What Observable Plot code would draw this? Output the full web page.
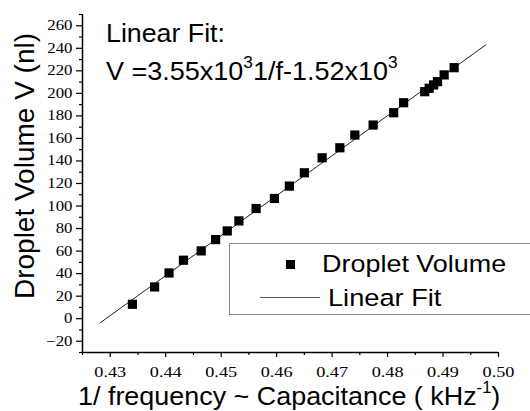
<!DOCTYPE html>
<html><head><meta charset="utf-8">
<script src="https://cdn.jsdelivr.net/npm/d3@7"></script>
<script src="https://cdn.jsdelivr.net/npm/@observablehq/plot@0.6"></script>
<style>
html,body{margin:0;padding:0;background:#fff;overflow:hidden;width:530px;height:411px}
#wrap{position:relative;width:530px;height:411px;overflow:hidden;font-family:"Liberation Sans",Arial,sans-serif;color:#000}
#wrap svg{position:absolute;left:0;top:0}
#wrap svg g[aria-label$="tick label"] text{font-family:"Liberation Serif","Times New Roman",serif;font-size:14px}
.ov{position:absolute;white-space:nowrap;line-height:1;transform-origin:0 0}
.sup{font-size:16px;position:relative;top:-12px}
.hl{position:absolute;height:0;border-top:1px solid #8a8a8a}
</style></head><body><div id="wrap"></div>
<script>
// Measured data (1/frequency in kHz^-1, droplet volume in nl)
const freqInv = [0.4340,0.4380,0.4406,0.4432,0.4464,0.4490,0.4511,0.4532,0.4563,0.4596,0.4623,0.4650,0.4682,0.4714,0.4741,0.4774,0.4811,0.4829,0.4867,0.4875,0.4883,0.4890,0.4902,0.4920];
const volume  = [12.8,28.2,40.6,51.9,60.2,70.2,77.9,86.8,97.8,106.7,117.7,129.5,142.8,151.7,163.0,171.9,182.8,191.7,201.5,204.5,207.5,210.4,216.4,222.8];
// Linear fit line end points
const fitX = [0.4282, 0.4977];
const fitV = [-3.6, 243.0];
// Axes
const xDomain = [0.425, 0.50];
const yDomain = [-30, 270];
const xMajorTicks = [0.43,0.44,0.45,0.46,0.47,0.48,0.49,0.50];
const xMinorTicks = [0.425,0.435,0.445,0.455,0.465,0.475,0.485,0.495];
const yMajorTicks = [-20,0,20,40,60,80,100,120,140,160,180,200,220,240,260];
const yMinorTicks = [-30,-10,10,30,50,70,90,110,130,150,170,190,210,230,250,270];

const points = freqInv.map((x,i)=>({x, v: volume[i]}));
const fit = fitX.map((x,i)=>({x, v: fitV[i]}));

const chart = Plot.plot({
  width:530, height:411,
  marginLeft:82, marginRight:32, marginTop:14, marginBottom:59,
  style:{fontFamily:"Liberation Serif, serif", fontSize:"14px", color:"#000", background:"transparent"},
  x:{domain:xDomain, label:null},
  y:{domain:yDomain, label:null},
  marks:[
    Plot.axisX(xMinorTicks,{tickSize:3, tickFormat:()=>"", label:null, strokeWidth:1.2}),
    Plot.axisX(xMajorTicks,{tickSize:5, tickPadding:10, tickFormat:d3.format(".2f"), label:null, strokeWidth:1.2}),
    Plot.axisY(yMinorTicks,{tickSize:3, tickFormat:()=>"", label:null, strokeWidth:1.2}),
    Plot.axisY(yMajorTicks,{tickSize:6, tickPadding:4, tickFormat:d3.format("d"), label:null, strokeWidth:1.2}),
    Plot.ruleX([xDomain[0]],{stroke:"#000", strokeWidth:1.5}),
    Plot.ruleY([yDomain[0]],{stroke:"#000", strokeWidth:1.5}),
    Plot.line(fit,{x:"x", y:"v", stroke:"#222", strokeWidth:1}),
    Plot.dot(points,{x:"x", y:"v", symbol:"square", r:5.2, fill:"#000", stroke:null})
  ]
});
const wrap = document.getElementById("wrap");
wrap.append(chart);

// serif, horizontally stretched tick labels like the reference
chart.querySelectorAll('g[aria-label$="tick label"]').forEach(g=>{
  const isX = g.getAttribute("aria-label").startsWith("x");
  const k = isX ? 1.3 : 1.2;
  g.setAttribute("font-family","Liberation Serif, serif");
  g.querySelectorAll("text").forEach(t=>{
    t.setAttribute("font-family","Liberation Serif, serif");
    const L = t.getComputedTextLength();
    if (L>0){ t.setAttribute("textLength", (L*k).toFixed(2)); t.setAttribute("lengthAdjust","spacingAndGlyphs"); }
  });
});

function ov(html, left, top, size, sx, extra){
  const d = document.createElement("div");
  d.className = "ov";
  d.innerHTML = html;
  d.style.left = left+"px"; d.style.top = top+"px"; d.style.fontSize = size+"px";
  d.style.transform = `scaleX(${sx})`;
  if (extra) Object.assign(d.style, extra);
  wrap.append(d);
  return d;
}
// annotations
ov("Linear Fit:", 106, 21, 25, 1.07);
ov('V =3.55x10<span class="sup">3</span>1/f-1.52x10<span class="sup">3</span>', 106, 59, 25, 1.08);
// legend box (open to the right edge, as in the reference)
function el(cls, st){ const d=document.createElement("div"); if(cls) d.className=cls; Object.assign(d.style, st); wrap.append(d); return d; }
el("hl",{left:"229px",top:"243px",width:"301px"});
el("hl",{left:"229px",top:"314px",width:"301px"});
el(null,{position:"absolute",left:"229px",top:"243px",width:"0",height:"72px",borderLeft:"1px solid #8a8a8a"});
el(null,{position:"absolute",left:"286px",top:"260px",width:"9px",height:"9px",background:"#000"});
el(null,{position:"absolute",left:"260px",top:"297px",width:"60px",height:"0",borderTop:"1px solid #555"});
ov("Droplet Volume", 321.7, 252, 24.5, 1.1);
ov("Linear Fit", 328, 286, 24.5, 1.11);
// axis titles
ov('1/ frequency ~ Capacitance ( kHz<span class="sup">-1</span>)', 78, 383, 26, 1.035);
ov("Droplet Volume V (nl)", 25, 166, 28, 1, {transformOrigin:"50% 50%", transform:"translate(-50%,-50%) rotate(-90deg)"});
</script></body></html>
